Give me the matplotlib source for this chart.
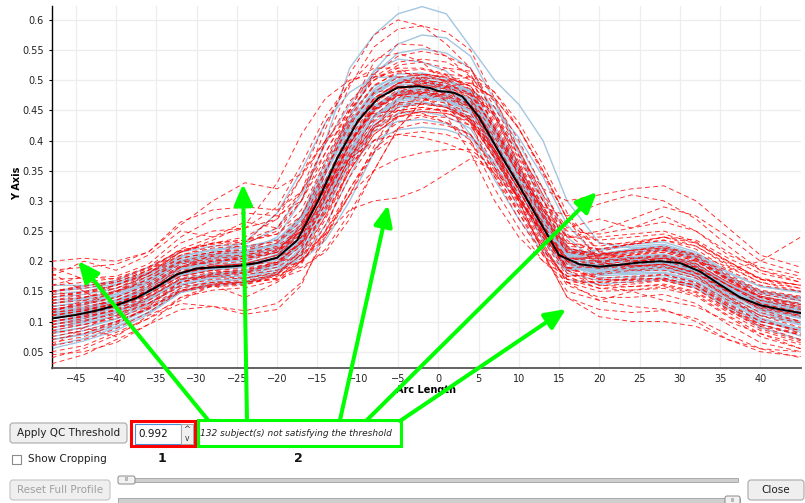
import numpy as np
import matplotlib
matplotlib.use("Agg")
import matplotlib.pyplot as plt
from matplotlib.patches import FancyArrowPatch, FancyBboxPatch, Rectangle
from matplotlib.transforms import Affine2D

# ---------------- data ----------------
arc_knots = [-48, -44, -40, -36, -32, -28, -24, -20, -17, -14, -11, -8, -5, -2,
             1, 4, 7, 10, 13, 16, 20, 24, 28, 32, 36, 40, 45]

mean_x = [-48, -45, -42.5, -40, -37.5, -35, -32.5, -30, -27.5, -25, -22.5, -20,
          -17.5, -15, -12.5, -10, -7.5, -5, -2.5, -1, 0, 1, 2, 3, 5, 7.5, 10,
          12.5, 15, 17.5, 20, 22.5, 25, 27.5, 30, 32.5, 35, 37.5, 40, 42.5, 45]
mean_y = [0.105, 0.111, 0.118, 0.127, 0.139, 0.157, 0.178, 0.188, 0.190, 0.192,
          0.197, 0.206, 0.235, 0.298, 0.372, 0.432, 0.470, 0.488, 0.490, 0.487,
          0.482, 0.481, 0.479, 0.473, 0.440, 0.382, 0.326, 0.268, 0.210, 0.195,
          0.191, 0.194, 0.198, 0.200, 0.197, 0.183, 0.161, 0.140, 0.127, 0.120,
          0.114]

# subjects passing the QC threshold (values x 1000, at arc_knots)
blue_profiles = [
    [120,128,140,162,192,203,206,220,262,345,425,485,510,512,503,482,412,342,268,210,203,208,212,197,163,137,124],
    [75,85,100,122,150,160,163,178,210,282,362,420,445,448,440,420,355,290,222,170,162,166,170,156,124,100,86],
    [150,158,168,190,215,225,228,255,310,395,460,515,535,530,515,475,395,320,245,200,212,220,225,208,175,150,140],
    [90,98,110,130,160,172,176,185,205,260,340,420,470,485,488,480,440,380,305,225,185,188,192,180,148,118,100],
    [110,118,130,152,182,190,192,212,258,350,440,510,545,552,545,520,445,360,270,205,198,204,208,192,158,132,118],
    [112,120,133,155,186,195,197,210,240,305,370,415,432,435,428,410,360,305,245,195,192,196,198,182,150,125,112],
    [130,138,150,172,200,210,215,240,300,400,520,575,610,622,610,555,500,460,400,300,230,222,225,210,175,150,135],
    [100,108,122,145,176,186,190,205,250,345,440,515,560,575,570,540,465,380,290,215,200,204,207,190,155,128,115],
    [60,72,90,115,150,165,170,182,215,290,375,440,470,478,472,455,395,330,260,200,180,180,182,168,135,105,85],
    [145,150,160,178,205,215,218,228,262,335,405,455,478,480,472,450,385,320,250,210,220,228,232,215,182,158,148],
    [95,105,118,140,170,180,184,196,230,305,385,448,478,485,482,470,420,352,275,208,190,195,200,186,150,120,105],
    [125,132,142,165,196,205,208,225,275,365,440,490,505,502,490,460,380,308,235,188,195,200,205,192,162,140,128],
    [55,68,85,112,148,162,166,180,220,300,380,438,462,465,455,432,372,308,238,180,168,170,172,158,122,90,70],
    [135,140,150,168,196,206,210,222,255,330,410,470,495,498,490,475,415,348,272,212,208,214,220,205,172,148,138],
    [108,116,128,148,176,186,190,202,232,300,378,438,465,470,465,448,390,325,255,196,186,190,195,180,146,120,106],
    [160,160,165,182,208,220,224,236,270,345,420,470,492,494,486,468,400,332,262,212,218,225,228,212,180,158,150],
    [82,90,105,128,160,172,176,190,228,310,392,450,476,480,474,456,392,326,256,196,178,182,186,172,138,110,94],
    [115,122,135,158,190,200,203,215,248,325,402,458,482,485,478,462,405,340,268,210,202,206,210,195,160,134,120],
    [100,110,124,146,178,188,192,205,238,300,360,400,418,422,418,405,365,315,255,200,190,194,198,184,152,126,112],
    [70,80,96,120,155,168,172,186,222,298,380,440,468,472,466,450,395,332,262,198,176,178,180,166,132,102,82],
    [130,136,146,168,198,208,212,228,270,355,430,480,500,502,494,478,420,352,278,218,212,218,222,206,172,146,134],
    [90,100,114,136,166,176,180,194,226,298,372,430,458,462,456,440,382,318,248,190,182,186,190,176,142,114,98],
    [118,124,136,158,188,198,202,216,262,352,432,482,500,498,486,455,375,305,235,185,190,196,200,186,154,130,118],
    [105,112,124,146,178,188,192,204,235,305,382,440,468,475,472,462,415,352,280,210,188,192,196,182,148,122,108],
    [120,128,142,165,200,215,232,280,350,430,480,505,505,490,468,435,370,305,240,195,195,202,208,194,160,132,118],
    [100,106,118,140,170,178,182,190,200,235,300,380,445,480,490,485,455,395,320,240,195,192,196,182,150,122,106],
    [110,118,130,152,182,192,196,210,250,335,415,470,490,485,460,410,335,270,215,185,188,194,198,184,150,124,110],
    [105,112,125,148,180,190,194,206,240,318,398,455,482,490,490,482,455,405,340,260,205,200,204,190,156,128,112],
    [140,145,155,175,202,212,216,230,268,345,420,475,500,505,498,482,425,358,285,222,210,215,218,202,168,142,130],
    [80,90,104,128,162,175,180,195,235,315,395,455,480,485,480,465,408,342,270,205,182,184,188,172,138,106,88],
    [125,132,145,168,200,210,214,228,270,350,425,478,498,495,485,462,395,325,255,200,200,206,210,196,162,135,122],
    [70,78,92,115,148,160,165,178,212,285,365,425,455,462,458,445,392,328,258,196,172,174,176,162,128,96,76],
    [115,120,132,155,188,198,202,215,248,322,400,455,478,480,475,458,400,335,262,205,198,204,208,194,160,132,118],
    [95,102,116,138,170,180,185,198,232,310,392,452,480,486,482,468,415,350,278,212,192,196,200,186,152,124,108],
    [150,155,162,180,208,218,222,236,275,352,428,482,505,508,500,482,418,348,275,215,212,220,225,208,175,150,140],
    [85,95,110,134,168,180,184,196,228,302,382,442,470,474,468,452,398,335,265,202,185,188,192,178,144,114,96],
]

# subjects not satisfying the QC threshold (values x 1000, at arc_knots)
red_profiles = [
    [200,205,200,215,260,300,330,320,345,400,450,500,525,530,520,500,440,370,300,250,245,255,265,250,215,185,170],
    [30,45,70,95,120,125,118,130,165,240,320,385,420,430,425,410,355,290,220,160,140,140,145,130,95,65,50],
    [80,90,110,140,170,175,172,180,200,245,285,300,305,320,345,370,350,305,245,185,160,162,168,155,120,95,80],
    [140,150,160,180,210,225,230,250,300,400,490,555,585,590,580,550,470,385,300,230,220,228,235,220,185,160,150],
    [120,130,150,180,215,230,240,270,340,430,495,535,545,530,495,430,340,270,210,175,180,190,195,180,150,125,110],
    [100,108,118,135,165,175,178,185,200,240,310,380,440,480,500,505,480,430,360,280,215,205,205,190,160,130,115],
    [150,155,165,185,215,230,235,245,275,350,425,480,505,510,505,490,440,375,320,300,310,320,325,300,255,210,190],
    [90,100,115,140,170,178,180,190,215,285,365,425,455,460,455,440,380,300,215,140,120,115,118,105,78,55,40],
    [170,172,175,195,240,270,280,275,300,370,445,505,530,535,530,510,445,375,300,240,235,240,245,230,198,172,160],
    [50,60,82,105,130,125,112,120,160,250,360,420,450,455,450,435,375,310,240,180,160,158,160,148,115,85,65],
    [110,118,130,150,180,190,192,205,240,315,395,455,480,485,478,460,395,325,255,200,195,200,205,200,185,200,240],
    [130,135,148,170,200,212,215,222,250,320,395,455,485,495,492,478,420,350,275,215,205,210,215,200,168,140,125],
    [65,75,95,125,165,180,185,195,225,295,370,425,450,455,448,425,360,295,225,165,150,152,158,145,110,80,62],
    [115,120,130,150,180,190,195,205,230,280,350,420,470,500,510,505,465,400,320,245,205,200,202,190,160,130,115],
    [185,190,195,215,265,285,290,285,315,380,450,500,520,520,510,490,425,355,285,230,225,232,240,225,192,165,155],
    [95,102,112,130,158,165,165,175,200,250,320,380,410,415,410,395,345,285,225,170,155,158,162,150,118,92,78],
    [145,148,155,175,205,215,218,230,275,360,435,490,515,518,508,485,415,345,272,215,210,218,222,208,175,150,140],
    [105,112,125,145,175,185,188,198,230,305,380,435,460,462,455,435,370,300,230,165,135,125,120,100,70,50,42],
    [140,148,160,185,220,240,255,290,360,440,495,520,520,500,465,400,320,255,200,165,165,172,178,165,135,110,98],
    [75,85,100,122,152,162,165,170,185,220,280,350,420,465,490,495,470,420,350,270,200,185,185,172,140,110,90],
    [190,170,150,165,195,205,208,218,250,330,410,465,490,492,485,465,400,330,260,205,200,205,210,196,165,142,130],
    [40,55,78,105,140,152,156,168,200,270,350,410,440,448,445,430,372,305,235,175,155,152,155,142,108,75,55],
    [120,128,140,162,192,202,205,215,250,330,410,470,495,498,490,470,410,345,290,275,295,310,300,270,225,185,165],
    [160,165,172,190,218,228,232,245,285,365,440,492,512,510,498,470,395,325,255,205,205,212,218,204,172,148,138],
    [85,95,108,130,160,170,172,182,210,275,350,410,440,448,445,432,380,318,250,190,172,175,178,164,130,100,85],
    [110,118,130,152,182,192,196,210,250,345,450,530,560,558,540,505,420,340,260,198,190,195,200,186,150,124,110],
    [135,140,150,170,198,208,210,220,252,325,400,452,475,478,470,452,392,325,255,200,198,204,208,192,160,135,125],
    [60,70,88,115,150,162,166,178,212,290,372,432,462,468,462,445,385,318,245,185,165,165,168,155,120,88,68],
    [100,108,120,142,172,182,186,198,232,308,388,448,475,480,475,460,405,345,285,240,250,270,290,275,240,200,180],
    [125,130,140,160,190,200,204,215,245,310,375,420,440,442,438,425,385,330,275,225,220,228,235,225,195,170,160],
    [180,150,120,130,165,178,182,195,235,315,395,450,475,480,472,455,395,325,255,195,188,192,195,180,148,122,108],
    [115,122,135,158,190,200,205,218,255,335,415,470,495,500,495,478,420,350,278,218,208,212,218,202,170,142,128],
    [70,80,98,122,152,160,162,172,198,250,310,350,370,380,385,385,355,305,245,190,170,170,172,160,125,95,78],
    [150,158,168,188,218,230,235,255,315,420,510,575,600,590,560,520,440,360,280,220,212,218,225,210,178,152,142],
    [95,105,120,145,180,192,196,210,245,325,405,462,488,492,488,475,420,355,285,222,210,215,220,205,170,140,122],
    [110,118,130,152,182,190,192,205,240,315,395,452,478,482,475,455,385,300,215,140,108,100,100,92,70,55,50],
    [130,140,155,180,215,235,260,330,410,470,500,510,505,490,465,430,370,305,240,190,190,198,205,190,160,135,120],
    [90,95,105,125,155,165,168,178,190,215,270,350,420,465,480,478,445,385,310,235,195,192,195,182,150,120,100],
    [105,115,128,150,182,195,200,215,260,350,430,478,490,475,440,380,300,240,200,175,178,185,190,176,142,115,100],
    [150,140,150,175,200,195,210,225,255,320,395,450,480,495,500,495,470,420,350,270,215,200,205,195,165,140,128],
    [60,90,75,110,135,160,140,165,195,260,340,400,430,440,430,410,350,280,210,150,135,150,135,125,100,80,55],
    [175,200,185,210,250,240,265,255,300,380,455,510,540,548,540,520,455,385,310,255,270,255,275,250,210,190,175],
    [100,110,125,150,190,210,230,280,340,400,430,445,450,445,430,400,340,280,220,170,165,170,172,160,128,100,85],
    [120,125,135,155,185,192,195,198,210,245,310,390,460,505,520,515,480,420,345,270,230,228,240,230,200,170,155],
    [45,50,65,95,140,160,165,172,205,275,355,415,445,452,450,438,385,318,248,188,170,168,170,160,125,92,70],
    [135,145,160,180,205,215,220,235,265,320,370,400,410,405,395,380,345,300,250,205,205,210,215,200,170,145,135],
    [160,175,170,190,230,250,255,270,315,395,465,505,515,505,485,455,380,310,245,200,210,218,222,212,190,165,150],
    [85,80,100,120,150,158,160,178,220,305,395,460,495,510,505,490,435,365,290,225,198,192,192,175,140,105,80],
    [115,135,125,145,175,185,180,200,230,295,370,440,475,470,455,435,380,320,265,215,215,230,240,235,205,180,165],
    [150,160,165,185,210,222,225,232,260,330,410,468,495,505,500,485,430,360,290,240,240,245,250,232,200,170,160],
]

y_ticks = [0.05, 0.1, 0.15, 0.2, 0.25, 0.3, 0.35, 0.4, 0.45, 0.5, 0.55, 0.6]
y_tick_labels = ["0.05", "0.1", "0.15", "0.2", "0.25", "0.3", "0.35", "0.4",
                 "0.45", "0.5", "0.55", "0.6"]
x_ticks = [-45, -40, -35, -30, -25, -20, -15, -10, -5, 0, 5, 10, 15, 20, 25,
           30, 35, 40]

threshold_text = "0.992"
status_text = "132 subject(s) not satisfying the threshold"

# arrows: start (on label box) -> tip, in image pixels
arrow_starts = [(208, 420), (247, 420), (340, 420), (367, 420), (400, 421)]
arrow_tips = [(78, 261), (243, 184), (388, 205), (597, 192), (566, 309)]

# ---------------- figure ----------------
W, H = 805, 503
fig = plt.figure(figsize=(W / 100, H / 100), dpi=100)
fig.patch.set_facecolor("white")
tp = Affine2D().scale(1.0 / W, -1.0 / H).translate(0, 1) + fig.transFigure

ax_l, ax_r, ax_t, ax_b = 51.7, 800.7, 6.0, 368.0
ax = fig.add_axes([ax_l / W, 1 - ax_b / H, (ax_r - ax_l) / W, (ax_b - ax_t) / H])

kx = np.array(arc_knots, dtype=float)
blue = np.array(blue_profiles, dtype=float) / 1000.0
red = np.array(red_profiles, dtype=float) / 1000.0

nmax = max(len(blue), len(red))
for i in range(nmax):
    if i < len(blue):
        ax.plot(kx, blue[i], color="#9fc3df", lw=1.0, alpha=0.95, zorder=2)
    if i < len(red):
        ax.plot(kx, red[i], color="#ff0000", lw=0.7, alpha=0.8,
                ls=(0, (5, 3.5)), zorder=3)
ax.plot(mean_x, mean_y, color="black", lw=1.4, zorder=5)

ax.set_xlim(-48, 45)
ax.set_ylim(0.023, 0.623)
ax.set_yticks(y_ticks)
ax.set_yticklabels(y_tick_labels)
ax.set_xticks(x_ticks)
ax.grid(True, color="#ededed", lw=0.9, zorder=0)
ax.set_axisbelow(True)
for s in ("top", "right"):
    ax.spines[s].set_visible(False)
ax.spines["left"].set_color("black")
ax.spines["left"].set_linewidth(1.0)
ax.spines["bottom"].set_color("#555555")
ax.spines["bottom"].set_linewidth(1.3)
ax.tick_params(axis="y", direction="out", length=2.5, width=0.8, pad=3,
               labelsize=7, labelcolor="#222222")
ax.tick_params(axis="x", length=0, pad=4, labelsize=7, labelcolor="#222222")
ax.set_xlabel("Arc Length", fontsize=7, fontweight="bold")
ax.xaxis.set_label_coords(0.5, (ax_b - 385) / (ax_b - ax_t))
ax.set_ylabel("Y Axis", fontsize=7, fontweight="bold")
ax.yaxis.set_label_coords((22 - ax_l) / (ax_r - ax_l), (ax_b - 183) / (ax_b - ax_t))


# ---------------- GUI widgets ----------------
def button(x, y, w, h, label, tc="#1e1e1e", ec="#a8a8a8", fs=7.5):
    p = FancyBboxPatch((x, y), w, h, boxstyle="round,pad=0,rounding_size=3",
                       transform=tp, fc="#efefef", ec=ec, lw=0.8, zorder=2)
    fig.add_artist(p)
    fig.text(x + w / 2, y + h / 2, label, transform=tp, ha="center",
             va="center", fontsize=fs, color=tc, zorder=3)


button(10, 423, 117, 20, "Apply QC Threshold")
button(10, 480, 100, 20, "Reset Full Profile", tc="#a0a0a0", ec="#c4c4c4")
button(748, 480, 56, 20, "Close")

# spin box
fig.add_artist(Rectangle((135, 424), 46, 20, transform=tp, fc="white",
                         ec="#4a90d9", lw=0.8, zorder=2))
fig.add_artist(Rectangle((181, 424), 12, 20, transform=tp, fc="#f0f0f0",
                         ec="#a8a8a8", lw=0.7, zorder=2))
fig.text(138, 434, threshold_text, transform=tp, ha="left", va="center",
         fontsize=7.5, color="#111111", zorder=3)
fig.text(187, 429.5, "^", transform=tp, ha="center", va="center",
         fontsize=6, color="#333333", zorder=3)
fig.text(187, 438.5, "v", transform=tp, ha="center", va="center",
         fontsize=5.5, color="#333333", zorder=3)
fig.add_artist(Rectangle((169.5, 427), 0.6, 14, transform=tp, fc="#111111",
                         ec="none", zorder=3))

# highlight boxes
fig.add_artist(Rectangle((131, 421), 64, 25.5, transform=tp, fill=False,
                         ec="#ff0000", lw=2.2, zorder=4))
fig.add_artist(Rectangle((197.5, 420), 203, 26, transform=tp, fill=False,
                         ec="#00ff00", lw=2.2, zorder=4))
fig.text(200, 433.5, status_text, transform=tp, ha="left", va="center",
         fontsize=6.5, style="italic", color="#222222", zorder=3)
fig.text(162, 459, "1", transform=tp, ha="center", va="center",
         fontsize=9, fontweight="bold", color="#111111")
fig.text(298, 459, "2", transform=tp, ha="center", va="center",
         fontsize=9, fontweight="bold", color="#111111")

# checkbox
fig.add_artist(Rectangle((12, 455), 9, 9, transform=tp, fc="white",
                         ec="#8a8a8a", lw=0.8))
fig.text(28, 459.5, "Show Cropping", transform=tp, ha="left", va="center",
         fontsize=7.5, color="#1e1e1e")

# sliders
fig.add_artist(Rectangle((118, 478), 620, 4, transform=tp, fc="#cfcfcf",
                         ec="#a0a0a0", lw=0.6))
fig.add_artist(FancyBboxPatch((118, 476), 17, 8, boxstyle="round,pad=0,rounding_size=2",
                              transform=tp, fc="#f2f2f2", ec="#8a8a8a", lw=0.7))
fig.text(126.5, 480, "III", transform=tp, ha="center", va="center",
         fontsize=3.5, color="#777777")
fig.add_artist(Rectangle((118, 498.5), 622, 5, transform=tp, fc="#cfcfcf",
                         ec="#a0a0a0", lw=0.6))
fig.add_artist(FancyBboxPatch((725, 496), 15, 9, boxstyle="round,pad=0,rounding_size=2",
                              transform=tp, fc="#f2f2f2", ec="#8a8a8a", lw=0.7))
fig.text(732.5, 500.5, "III", transform=tp, ha="center", va="center",
         fontsize=3.5, color="#777777")

# green arrows
for (sx, sy), (ex, ey) in zip(arrow_starts, arrow_tips):
    arr = FancyArrowPatch((sx, sy), (ex, ey), transform=tp,
                          arrowstyle="-|>,head_length=0.45,head_width=0.2",
                          mutation_scale=28, lw=2.9, color="#00ff00",
                          shrinkA=0, shrinkB=0, zorder=6)
    fig.add_artist(arr)

fig.savefig("out.png", dpi=100, facecolor="white")
